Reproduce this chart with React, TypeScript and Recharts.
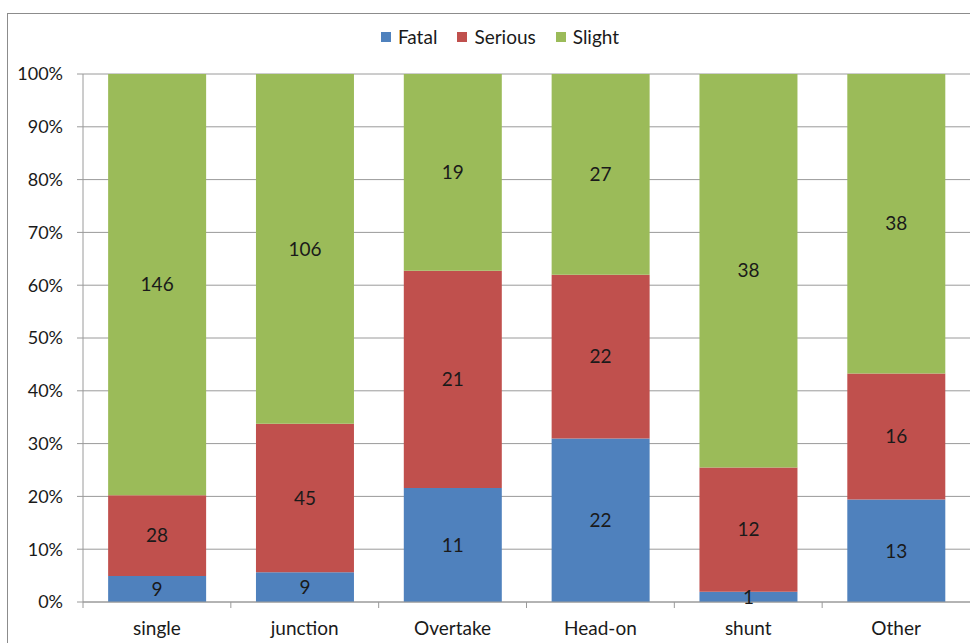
import React from 'react'
import { BarChart, Bar, XAxis, YAxis, CartesianGrid, Legend, LabelList } from 'recharts'

// crash type breakdown by severity (counts, shown as 100% stacks)
const categories = ['single', 'junction', 'Overtake', 'Head-on', 'shunt', 'Other']
const fatal = [9, 9, 11, 22, 1, 13]
const serious = [28, 45, 21, 22, 12, 16]
const slight = [146, 106, 19, 27, 38, 38]
const yTicks = [0, 0.1, 0.2, 0.3, 0.4, 0.5, 0.6, 0.7, 0.8, 0.9, 1]

const FONT = 'Lato, "Noto Sans", sans-serif'
const AXIS_GRAY = '#9a9a9a'
const TEXT = '#1a1a1a'

const data = categories.map((name, i) => ({
  name,
  Fatal: fatal[i],
  Serious: serious[i],
  Slight: slight[i],
}))

const renderLegend = (props: any) => (
  <div
    style={{
      display: 'flex',
      justifyContent: 'center',
      gap: 20,
      fontSize: 19,
      fontFamily: FONT,
      color: TEXT,
      lineHeight: '22px',
    }}
  >
    {(props.payload || []).map((p: any) => (
      <span key={p.value} style={{ display: 'flex', alignItems: 'center' }}>
        <span style={{ width: 10, height: 10, background: p.color, marginRight: 7, display: 'inline-block' }} />
        {p.value}
      </span>
    ))}
  </div>
)

// label plus a tick mark on the left edge of each category band (Excel style)
const CategoryTick = (props: any) => {
  const { x, y, payload } = props
  const half = typeof payload?.offset === 'number' ? payload.offset : null
  return (
    <g>
      {half !== null && (
        <line x1={x - half} x2={x - half} y1={y} y2={y + 6} stroke={AXIS_GRAY} />
      )}
      <text x={x} y={y + 33} textAnchor="middle" fill={TEXT} fontSize={19} fontFamily={FONT}>
        {payload.value}
      </text>
    </g>
  )
}

export default function App() {
  const labelStyle = { fill: TEXT, fontSize: 19, fontFamily: FONT }
  return (
    <div style={{ position: 'absolute', left: 0, top: 0, width: 970, height: 643, overflow: 'hidden', background: '#fff' }}>
      <div
        style={{
          position: 'absolute',
          left: 7,
          top: 13,
          width: 1000,
          height: 700,
          borderLeft: '1px solid #8c8c8c',
          borderTop: '1px solid #8c8c8c',
        }}
      />
      <div style={{ position: 'absolute', left: 0, top: 0 }}>
        <BarChart
          width={970}
          height={643}
          data={data}
          stackOffset="expand"
          barCategoryGap="17%"
          margin={{ top: 52, right: 0, bottom: 0, left: 0 }}
        >
          <CartesianGrid vertical={false} stroke={AXIS_GRAY} />
          <Legend verticalAlign="top" content={renderLegend} wrapperStyle={{ top: 26, left: 30, width: 940 }} />
          <XAxis
            dataKey="name"
            height={41}
            stroke={AXIS_GRAY}
            tickLine={false}
            tickSize={0}
            tickMargin={0}
            interval={0}
            tick={<CategoryTick />}
          />
          <YAxis
            width={83}
            ticks={yTicks}
            domain={[0, 1]}
            stroke={AXIS_GRAY}
            tickSize={6}
            tickMargin={14}
            tickFormatter={(v: number) => `${Math.round(v * 100)}%`}
            tick={{ fill: TEXT, fontSize: 18, fontFamily: FONT }}
          />
          <Bar dataKey="Fatal" stackId="a" fill="#4F81BD" isAnimationActive={false}>
            <LabelList dataKey="Fatal" position="center" style={labelStyle} />
          </Bar>
          <Bar dataKey="Serious" stackId="a" fill="#C0504D" isAnimationActive={false}>
            <LabelList dataKey="Serious" position="center" style={labelStyle} />
          </Bar>
          <Bar dataKey="Slight" stackId="a" fill="#9BBB59" isAnimationActive={false}>
            <LabelList dataKey="Slight" position="center" style={labelStyle} />
          </Bar>
        </BarChart>
      </div>
    </div>
  )
}
